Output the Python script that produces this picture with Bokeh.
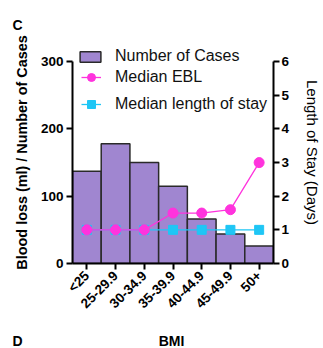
import math
from bokeh.plotting import figure
from bokeh.models import (Range1d, LinearAxis, FixedTicker, Legend, LegendItem,
                          Title, ColumnDataSource, FactorRange)
from bokeh.embed import file_html
from bokeh.resources import INLINE

bmi = ["<25", "25-29.9", "30-34.9", "35-39.9", "40-44.9", "45-49.9", "50+"]
cases = [137, 178, 150, 115, 66, 44, 26]
median_ebl = [50, 50, 50, 75, 75, 80, 150]
median_los = [1, 1, 1, 1, 1, 1, 1]

FONT = "Liberation Sans"
BAR = "#a086d0"
MAG = "#ff33dd"
CYAN = "#1fc6f5"

src = ColumnDataSource(dict(bmi=bmi, cases=cases, ebl=median_ebl, los=median_los))

p = figure(frame_width=201, frame_height=222, output_backend="svg", toolbar_location=None,
           x_range=FactorRange(factors=bmi, range_padding=0),
           y_range=Range1d(0, 330),
           min_border_left=72, min_border_right=50, min_border_top=41,
           min_border_bottom=0)
p.extra_y_ranges = {"los": Range1d(0, 6.6)}
p.outline_line_color = None
p.grid.visible = False
p.background_fill_color = "white"
p.border_fill_color = "white"

p.title.text = "C"
p.title.align = "left"
p.title.offset = -60
p.title.standoff = 17
p.title.text_font = FONT
p.title.text_font_style = "bold"
p.title.text_font_size = "14px"
p.title.text_color = "black"

bars = p.vbar(x="bmi", top="cases", width=1.0, source=src, fill_color=BAR,
              line_color="#2a2a2a", line_width=1.5)
los_line = p.line(x="bmi", y="los", source=src, y_range_name="los",
                  line_color=CYAN, line_width=1.3)
los_pts = p.scatter(x="bmi", y="los", source=src, y_range_name="los",
                    marker="square", size=9, fill_color=CYAN, line_color=CYAN)
ebl_line = p.line(x="bmi", y="ebl", source=src, line_color=MAG, line_width=1.3)
ebl_pts = p.scatter(x="bmi", y="ebl", source=src, marker="circle", size=10,
                    fill_color=MAG, line_color=MAG)

def style_axis(ax):
    ax.axis_line_width = 2
    ax.axis_line_color = "black"
    ax.major_tick_line_width = 2
    ax.major_tick_line_color = "black"
    ax.major_tick_out = 6
    ax.major_tick_in = 0
    ax.minor_tick_line_color = None
    ax.major_label_text_font = FONT
    ax.major_label_text_font_style = "bold"
    ax.major_label_text_font_size = "13.5px"
    ax.major_label_text_color = "black"
    ax.axis_label_text_font = FONT
    ax.axis_label_text_font_style = "bold"
    ax.axis_label_text_font_size = "14.4px"
    ax.axis_label_text_color = "black"

yax = p.yaxis[0]
yax.ticker = FixedTicker(ticks=[0, 100, 200, 300])
yax.bounds = (0, 300)
style_axis(yax)
yax.major_label_standoff = 3
yax.axis_label = "Blood loss (ml) / Number of Cases"
yax.axis_label_standoff = 8

rax = LinearAxis(y_range_name="los", ticker=FixedTicker(ticks=[0, 1, 2, 3, 4, 5, 6]),
                 bounds=(0, 6))
style_axis(rax)
rax.major_label_standoff = 2
rax.axis_label = "Length of Stay (Days)"
rax.axis_label_text_font_style = "normal"
rax.axis_label_text_font_size = "15px"
rax.axis_label_standoff = 12
p.add_layout(rax, "right")

xax = p.xaxis[0]
style_axis(xax)
xax.major_label_orientation = math.pi / 4
xax.major_label_standoff = 4

NB = "\u00a0"
bottom_title = Title(text="D" + NB * 35 + "BMI", align="left", offset=-60, standoff=23,
                     text_font=FONT, text_font_style="bold", text_font_size="14px",
                     text_color="black")
p.add_layout(bottom_title, "below")

def mk_legend(items, loc, gw, gh, standoff):
    lg = Legend(items=items, location=loc, glyph_width=gw, glyph_height=gh,
                label_standoff=standoff, label_text_font=FONT,
                label_text_font_size="16px", label_text_color="#111111",
                label_height=gh, padding=0, margin=0, spacing=0,
                border_line_color=None, background_fill_alpha=0)
    p.add_layout(lg, "center")

mk_legend([LegendItem(label="Number of Cases", renderers=[bars])], (5, 198), 26, 13, 12)
mk_legend([LegendItem(label="Median EBL", renderers=[ebl_line, ebl_pts])], (9, 175), 20, 22, 14)
mk_legend([LegendItem(label="Median length of stay", renderers=[los_line, los_pts])], (9, 148), 20, 22, 14)

open("out.html", "w").write(file_html(p, INLINE))
